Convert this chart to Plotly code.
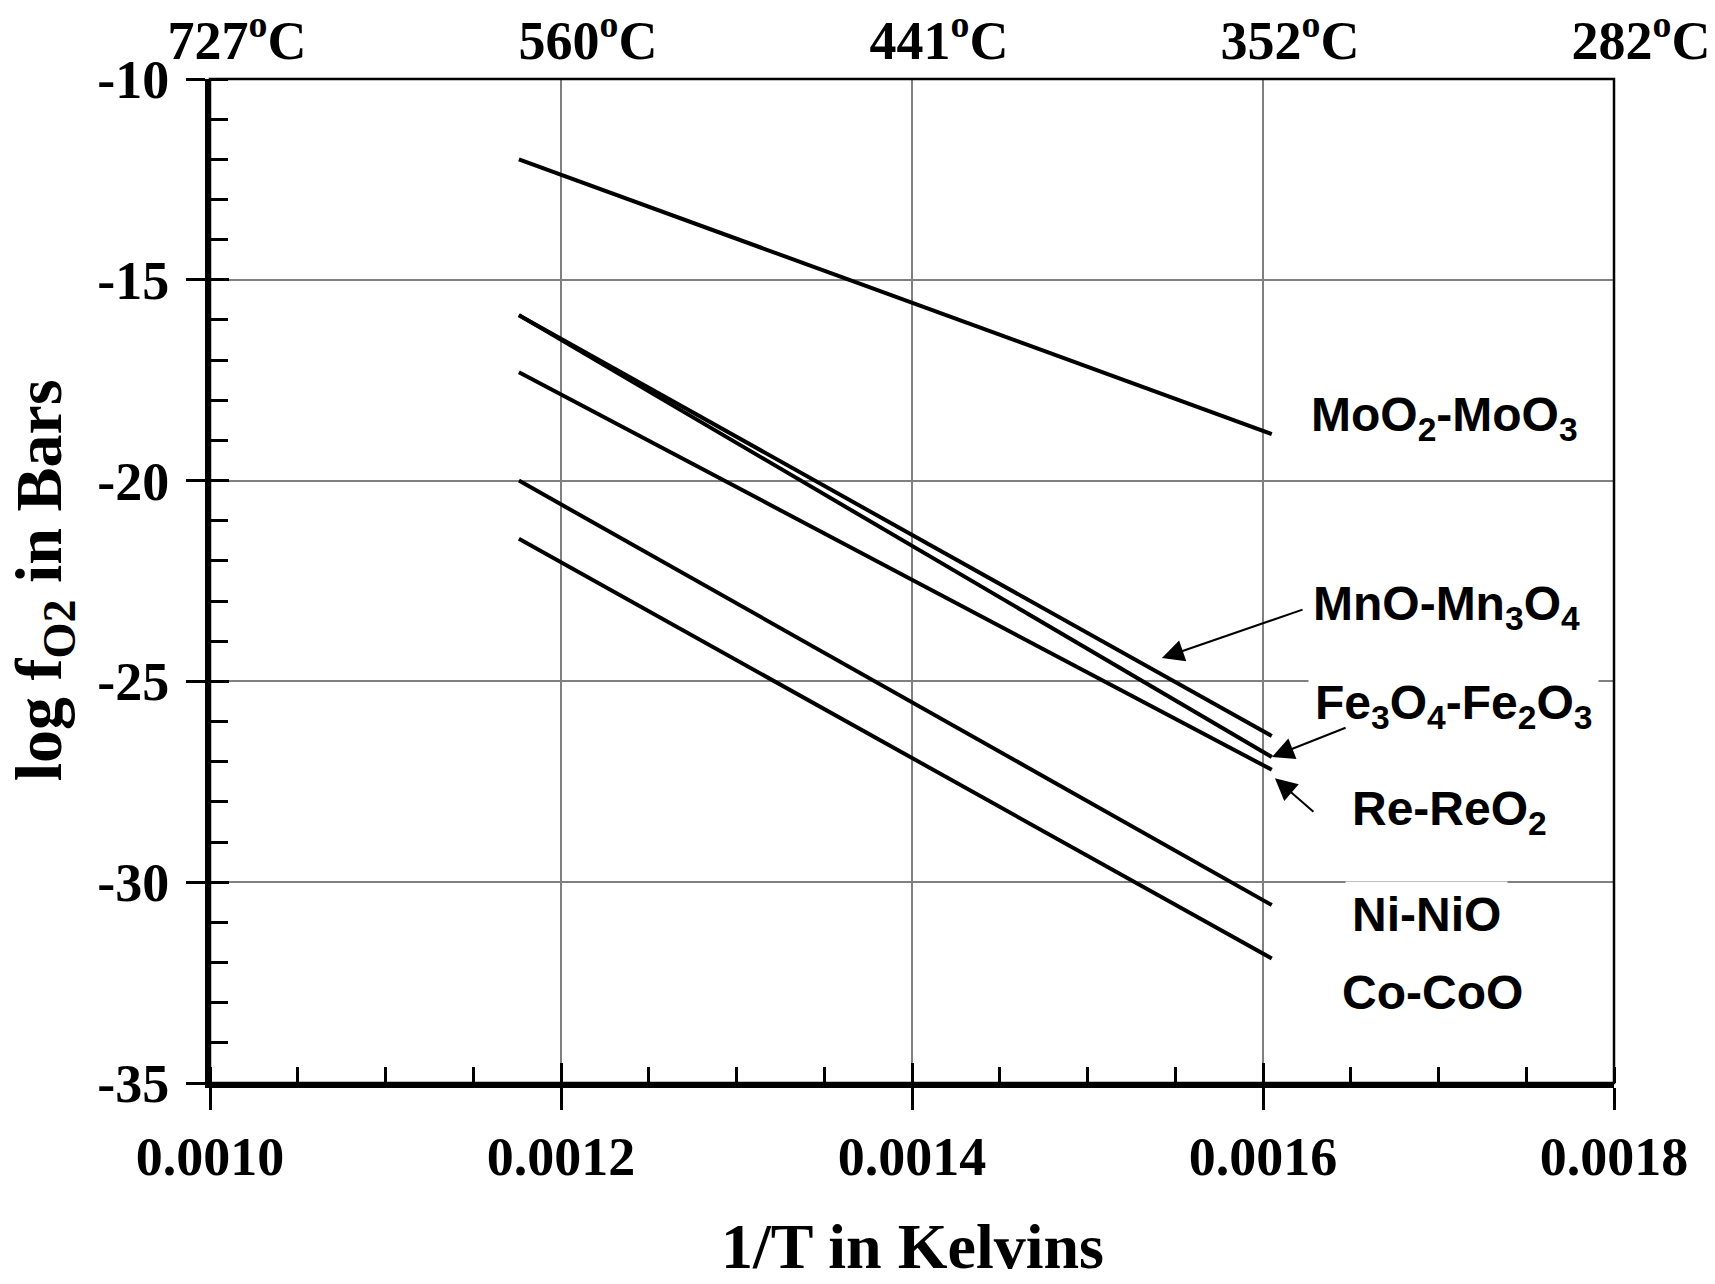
import plotly.graph_objects as go

# ---------------- data ----------------
inv_T = [0.001176, 0.001605]          # 1/T endpoints (1/K)

moo2_moo3 = [-12.0, -18.84]
mno_mn3o4 = [-15.88, -26.36]
fe3o4_fe2o3 = [-15.88, -26.88]
re_reo2 = [-17.3, -27.2]
ni_nio = [-20.0, -30.57]
co_coo = [-21.45, -31.9]

buffer_names = ["MoO<sub>2</sub>-MoO<sub>3</sub>", "MnO-Mn<sub>3</sub>O<sub>4</sub>",
                "Fe<sub>3</sub>O<sub>4</sub>-Fe<sub>2</sub>O<sub>3</sub>",
                "Re-ReO<sub>2</sub>", "Ni-NiO", "Co-CoO"]

x_ticks = [0.0010, 0.0012, 0.0014, 0.0016, 0.0018]
x_tick_labels = ["0.0010", "0.0012", "0.0014", "0.0016", "0.0018"]
temp_labels = ["727<sup>o</sup>C", "560<sup>o</sup>C", "441<sup>o</sup>C",
               "352<sup>o</sup>C", "282<sup>o</sup>C"]
y_ticks = [-10, -15, -20, -25, -30, -35]
y_tick_labels = ["-10", "-15", "-20", "-25", "-30", "-35"]

# label positions (x, y in data units) and arrow (tip, tail)
label_pos = [(0.0017037, -18.45), (0.0017048, -23.15), (0.0017088, -25.6),
             (0.0017060, -28.25), (0.0016929, -30.8), (0.0016963, -32.75)]
arrows = [((0.0015424, -24.42), (0.0016234, -23.20)),
          ((0.0016051, -26.88), (0.0016479, -26.14)),
          ((0.0016068, -27.41), (0.0016296, -28.28))]

SERIF = "Liberation Serif, Times New Roman, serif"
SANS = "Liberation Sans, Arial, sans-serif"

fig = go.Figure()
for ys in [moo2_moo3, mno_mn3o4, fe3o4_fe2o3, re_reo2, ni_nio, co_coo]:
    fig.add_trace(go.Scatter(x=inv_T, y=ys, mode="lines",
                             line=dict(color="black", width=4),
                             showlegend=False, hoverinfo="skip"))

# empty traces so that the overlay axes are drawn
fig.add_trace(go.Scatter(x=[None], y=[None], xaxis="x2", yaxis="y2",
                         showlegend=False, hoverinfo="skip"))
fig.add_trace(go.Scatter(x=[None], y=[None], xaxis="x3", yaxis="y",
                         showlegend=False, hoverinfo="skip"))

xr = [0.0010, 0.0018]
yr = [-35, -10]

fig.update_layout(
    width=1715, height=1284,
    margin=dict(l=210, r=101, t=79, b=201, autoexpand=False),
    paper_bgcolor="white", plot_bgcolor="white",
    showlegend=False,
    xaxis=dict(range=xr, tickvals=x_ticks, ticktext=x_tick_labels,
               automargin=False,
               showline=True, linecolor="black", linewidth=5,
               ticks="outside", ticklen=22, tickwidth=3, tickcolor="black",
               minor=dict(ticks="inside", ticklen=16, tickwidth=3, tickcolor="black",
                          dtick=0.00005, tick0=0.0010, showgrid=False),
               showgrid=True, gridcolor="#808080", gridwidth=1.5,
               zeroline=False,
               tickfont=dict(family=SERIF, size=54, color="black", weight="bold"),
               ticklabelstandoff=0),
    xaxis2=dict(range=xr, overlaying="x", side="top", anchor="y2",
                automargin=False,
                tickvals=x_ticks, ticktext=temp_labels, ticks="",
                showline=False, showgrid=False, zeroline=False,
                tickfont=dict(family=SERIF, size=54, color="black", weight="bold"),
                ticklabelshift=27, ticklabelstandoff=8),
    xaxis3=dict(range=xr, overlaying="x", side="bottom", anchor="y",
                automargin=False,
                tickvals=x_ticks, ticks="inside", ticklen=20, tickwidth=3,
                tickcolor="black", showticklabels=False,
                showline=False, showgrid=False, zeroline=False),
    yaxis=dict(range=yr, tickvals=y_ticks, ticktext=y_tick_labels,
               automargin=False,
               showline=True, linecolor="black", linewidth=5,
               ticks="outside", ticklen=19, tickwidth=3, tickcolor="black",
               minor=dict(ticks="inside", ticklen=18, tickwidth=3, tickcolor="black",
                          dtick=1, tick0=-35, showgrid=False),
               showgrid=True, gridcolor="#808080", gridwidth=1.5,
               zeroline=False,
               tickfont=dict(family=SERIF, size=54, color="black", weight="bold"),
               ticklabelstandoff=6),
    yaxis2=dict(range=yr, overlaying="y", side="left", anchor="x",
                automargin=False,
                tickvals=y_ticks, ticks="inside", ticklen=19, tickwidth=3,
                tickcolor="black", showticklabels=False,
                showline=False, showgrid=False, zeroline=False),
)

# thin frame on top and right
fig.add_shape(type="rect", xref="paper", yref="paper", x0=0, y0=0, x1=1, y1=1,
              line=dict(color="black", width=2.5), layer="above")

# curve labels
for name, (lx, ly) in zip(buffer_names, label_pos):
    fig.add_annotation(x=lx, y=ly, xref="x", yref="y", text=name, showarrow=False,
                       font=dict(family=SANS, size=48, color="black", weight="bold"),
                       bgcolor="white", borderpad=6, xanchor="center", yanchor="middle")

# arrows
for (tip, tail) in arrows:
    fig.add_annotation(x=tip[0], y=tip[1], ax=tail[0], ay=tail[1],
                       xref="x", yref="y", axref="x", ayref="y", text="",
                       showarrow=True, arrowhead=2, arrowsize=2.2, arrowwidth=2,
                       arrowcolor="black", standoff=0, startstandoff=0)

# axis titles
fig.add_annotation(x=0.5, y=-0.163, xref="paper", yref="paper",
                   text="1/T in Kelvins", showarrow=False,
                   font=dict(family=SERIF, size=64, color="black", weight="bold"),
                   xanchor="center", yanchor="middle")
fig.add_annotation(x=-0.118, y=0.501, xref="paper", yref="paper",
                   text="log f<sub>O2</sub> in Bars", showarrow=False, textangle=-90,
                   font=dict(family=SERIF, size=66, color="black", weight="bold"),
                   xanchor="center", yanchor="middle")

fig.write_html("out.html")
